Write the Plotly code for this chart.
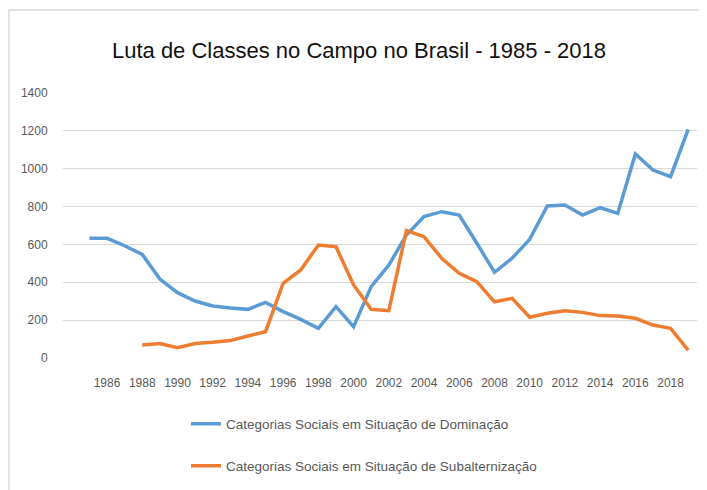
import plotly.graph_objects as go

years = list(range(1985, 2020))
dominacao = [632, 632, 593, 547, 417, 345, 301, 275, 264, 257, 294, 245,
             204, 157, 271, 165, 377, 491, 650, 747, 773, 755, 606, 453,
             527, 627, 803, 808, 755, 794, 764, 1078, 993, 958, 1208]
subalternizacao = [None, None, None, 69, 77, 55, 77, 83, 92, 116, 139, 395,
                   465, 597, 588, 386, 257, 250, 673, 641, 527, 447, 403, 297,
                   315, 215, 236, 250, 241, 224, 222, 210, 174, 157, 42]
tick_years = list(range(1986, 2019, 2))
y_ticks = [0, 200, 400, 600, 800, 1000, 1200, 1400]

title_text = "Luta de Classes no Campo no Brasil - 1985 - 2018"
name_dom = "Categorias Sociais em Situação de Dominação"
name_sub = "Categorias Sociais em Situação de Subalternização"

narrow = "Liberation Sans Narrow, Liberation Sans, Arial, sans-serif"

fig = go.Figure()
fig.add_trace(go.Scatter(x=years, y=dominacao, mode="lines", name=name_dom,
                         line=dict(color="#5B9BD5", width=3.5), legend="legend",
                         showlegend=True))
fig.add_trace(go.Scatter(x=years, y=subalternizacao, mode="lines", name=name_sub,
                         line=dict(color="#ED7D31", width=3.5), legend="legend2",
                         showlegend=True))

# page body has an 8px margin, so the figure is laid out in page coords - 8
OFF = 8
W, H = 707 - OFF, 490 - OFF
L, R, T, B = 63 - OFF, 10, 93 - OFF, 132
pw, ph = W - L - R, H - T - B

def px(x):
    return (x - OFF - L) / pw

def py(y):
    return (H - B - (y - OFF)) / ph

fig.update_layout(
    width=W, height=H,
    showlegend=True,
    margin=dict(l=L, r=R, t=T, b=B, autoexpand=False),
    paper_bgcolor="white", plot_bgcolor="white",
    title=dict(text=title_text, x=(359 - OFF) / W, xanchor="center",
               xref="container", y=1 - (50 - OFF) / H, yanchor="middle",
               yref="container",
               font=dict(family=narrow, size=22, color="#111111")),
    xaxis=dict(range=[1983.5, 2019.5], tickmode="array", tickvals=tick_years,
               ticktext=[str(t) for t in tick_years], showgrid=False,
               zeroline=False, showline=False, ticks="outside", ticklen=14,
               tickcolor="rgba(0,0,0,0)",
               tickfont=dict(family=narrow, size=12, color="#595959")),
    yaxis=dict(range=[0, 1400], tickmode="array", tickvals=y_ticks,
               showgrid=True, gridcolor="#d9d9d9", gridwidth=1,
               zeroline=False, showline=False, ticks="outside", ticklen=12,
               tickcolor="rgba(0,0,0,0)",
               tickfont=dict(family=narrow, size=12, color="#595959")),
    legend=dict(x=px(186), y=py(424), xanchor="left", yanchor="middle",
                font=dict(family=narrow, size=13.5, color="#595959"),
                bgcolor="rgba(0,0,0,0)"),
    legend2=dict(x=px(186), y=py(466), xanchor="left", yanchor="middle",
                 font=dict(family=narrow, size=13.5, color="#595959"),
                 bgcolor="rgba(0,0,0,0)"),
    shapes=[
        dict(type="line", xref="paper", yref="paper", x0=px(9), x1=px(707),
             y0=py(10), y1=py(10), line=dict(color="#d9d9d9", width=1.5)),
        dict(type="line", xref="paper", yref="paper", x0=px(9), x1=px(9),
             y0=py(10), y1=py(490), line=dict(color="#d9d9d9", width=1.5)),
    ],
)

fig.write_html("out.html")
